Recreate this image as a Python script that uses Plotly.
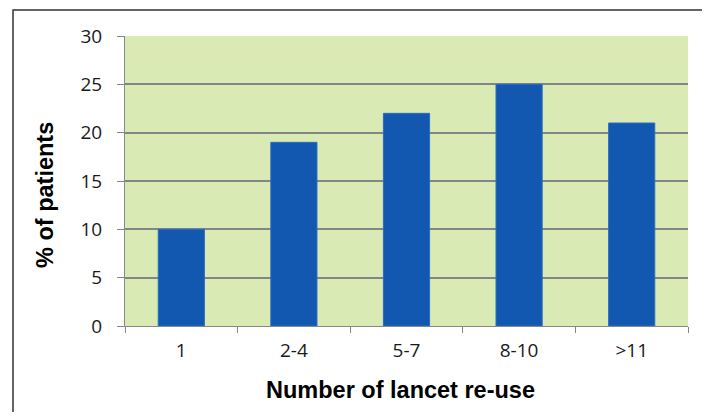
import plotly.graph_objects as go

categories = ["1", "2-4", "5-7", "8-10", ">11"]
values = [10, 19, 22, 25, 21]
y_ticks = [0, 5, 10, 15, 20, 25, 30]
x_title = "Number of lancet re-use"
y_title = "% of patients"

# page body has an 8px margin, so the figure is laid out 8px in from the window
W, H = 702, 404
L, R, T, B = 117, 22, 28, 86
pw, ph = W - L - R, H - T - B

def px(x):
    return (x - L) / pw

def py(y):
    return (H - B - y) / ph

fig = go.Figure(go.Bar(
    x=categories, y=values, width=0.41,
    marker=dict(color="#1257b0", line=dict(color="#2a6cc4", width=1)),
))

title_font = dict(size=23.5, family="Liberation Sans, Arial, sans-serif", color="black")
fig.update_layout(
    width=W, height=H,
    margin=dict(l=L, r=R, t=T, b=B),
    paper_bgcolor="white",
    plot_bgcolor="#d9eab5",
    showlegend=False,
    font=dict(family="Open Sans, Liberation Sans, sans-serif", color="black"),
    shapes=[dict(type="rect", xref="paper", yref="paper",
                 x0=px(5), x1=px(698), y0=py(2), y1=py(420),
                 line=dict(color="#333333", width=1.5), fillcolor="rgba(0,0,0,0)",
                 layer="below")],
    annotations=[
        dict(text=f"<b>{x_title}</b>", xref="paper", yref="paper",
             x=px(392), y=py(382), showarrow=False, font=title_font,
             xanchor="center", yanchor="middle"),
        dict(text=f"<b>{y_title}</b>", xref="paper", yref="paper",
             x=px(37), y=py(187), showarrow=False, font=title_font, textangle=-90,
             xanchor="center", yanchor="middle"),
    ],
)
fig.update_xaxes(
    type="category", tickson="boundaries", ticks="outside", ticklen=6,
    tickcolor="#888888", showline=True, linecolor="#888888", linewidth=1,
    tickfont=dict(size=19, color="#1a1a1a"), showgrid=False, ticklabelstandoff=7,
)
fig.update_yaxes(
    range=[0, 30], tickvals=y_ticks, ticks="outside", ticklen=7,
    tickcolor="#888888", showline=True, linecolor="#888888", linewidth=1,
    showgrid=True, gridcolor="#858585", gridwidth=1.5,
    tickfont=dict(size=19, color="#1a1a1a"), zeroline=False, ticklabelstandoff=11,
)

fig.write_html("out.html")
